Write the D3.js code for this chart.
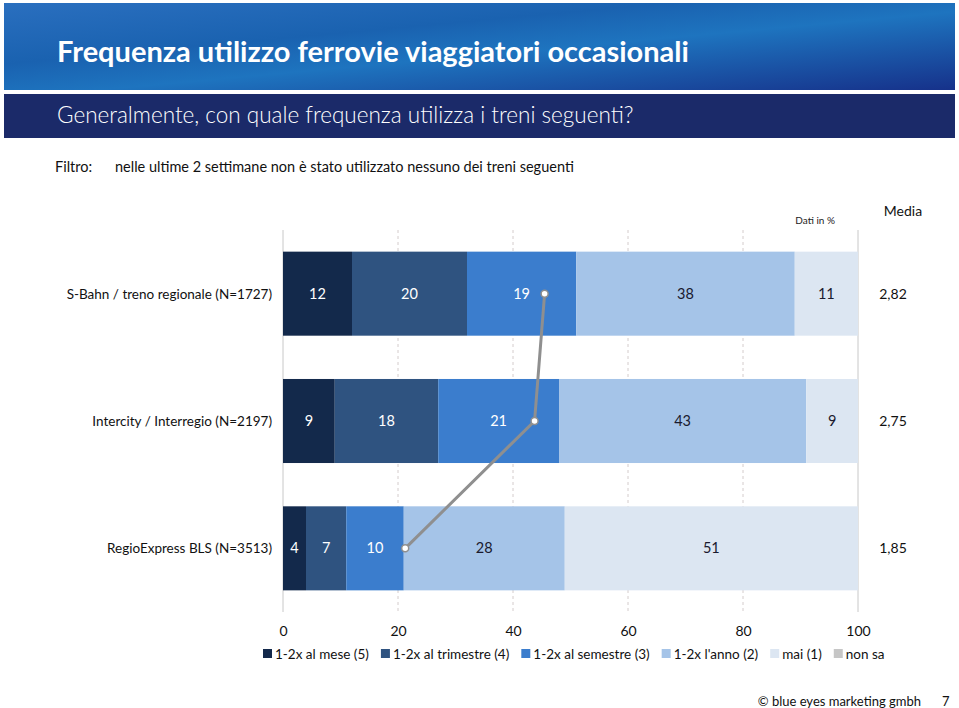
<!DOCTYPE html>
<html>
<head>
<meta charset="utf-8">
<script src="https://cdn.jsdelivr.net/npm/d3@7"></script>
<style>
  body { margin: 0; background: #fff; }
  svg { display: block; font-family: Lato, 'Open Sans', sans-serif; }
</style>
</head>
<body>
<div id="chart"></div>
<script>
// chart data
const categories = [
   'S-Bahn / treno regionale (N=1727)',
   'Intercity / Interregio (N=2197)',
   'RegioExpress BLS (N=3513)'
]
const seriesNames = ['1-2x al mese (5)', '1-2x al trimestre (4)', '1-2x al semestre (3)', "1-2x l'anno (2)", 'mai (1)', 'non sa']
const mese = [12, 9, 4]
const trimestre = [20, 18, 7]
const semestre = [19, 21, 10]
const anno = [38, 43, 28]
const mai = [11, 9, 51]
const nonSa = [0, 0, 0]
const media = [2.82, 2.75, 1.85]
const xTicks = [0, 20, 40, 60, 80, 100]

const colors = ['#13294b', '#2f5380', '#3b7dcd', '#a5c4e8', '#dce6f2', '#c6c6c6']
const labelColors = ['#ffffff', '#ffffff', '#ffffff', '#1a1a2e', '#1a1a2e', '#1a1a2e']

const W = 959, H = 708

let svg = d3.select('#chart').append('svg')
   .attr('width', W)
   .attr('height', H)

// header gradient
let defs = svg.append('defs')
let grad = defs.append('linearGradient')
   .attr('id', 'hdr')
   .attr('x1', '0').attr('y1', '0').attr('x2', '1').attr('y2', '1')
grad.append('stop').attr('offset', '0%').attr('stop-color', '#2a6fbf')
grad.append('stop').attr('offset', '35%').attr('stop-color', '#1a62b0')
grad.append('stop').attr('offset', '55%').attr('stop-color', '#1e74bf')
grad.append('stop').attr('offset', '100%').attr('stop-color', '#16318a')

svg.append('rect')
   .attr('x', 4).attr('y', 3).attr('width', 951).attr('height', 87)
   .attr('fill', 'url(#hdr)')

svg.append('text')
   .attr('x', 57).attr('y', 62)
   .attr('fill', '#fff')
   .style('font-size', '29px')
   .style('font-weight', 700)
   .text('Frequenza utilizzo ferrovie viaggiatori occasionali')

svg.append('rect')
   .attr('x', 4).attr('y', 94).attr('width', 951).attr('height', 44)
   .attr('fill', '#1b2a69')

svg.append('text')
   .attr('x', 57).attr('y', 123)
   .attr('fill', '#fff')
   .style('font-size', '22.5px')
   .style('font-weight', 300)
   .text('Generalmente, con quale frequenza utilizza i treni seguenti?')

// filter line
svg.append('text')
   .attr('x', 55).attr('y', 172)
   .style('font-size', '14.5px')
   .attr('fill', '#111')
   .text('Filtro:')
svg.append('text')
   .attr('x', 115).attr('y', 172)
   .style('font-size', '14.5px')
   .attr('fill', '#111')
   .text('nelle ultime 2 settimane non è stato utilizzato nessuno dei treni seguenti')

svg.append('text')
   .attr('x', 835).attr('y', 224)
   .attr('text-anchor', 'end')
   .style('font-size', '10px')
   .attr('fill', '#222')
   .text('Dati in %')
svg.append('text')
   .attr('x', 903).attr('y', 216)
   .attr('text-anchor', 'middle')
   .style('font-size', '14px')
   .attr('fill', '#111')
   .text('Media')

// plot area
let plot = { left: 283, right: 858, top: 230, bottom: 612 }

let x = d3.scaleLinear()
   .domain([0, 100])
   .range([plot.left, plot.right])

let y = d3.scaleBand()
   .domain(categories)
   .range([plot.top, plot.bottom])
   .paddingInner(0.34)
   .paddingOuter(0.17)

// media mapped onto the percent axis (1..5 -> 0..100)
let mediaScale = d3.scaleLinear().domain([1, 5]).range([0, 100])

// gridlines
svg.append('g')
   .selectAll('line')
   .data(xTicks)
   .enter().append('line')
      .attr('x1', d => x(d)).attr('x2', d => x(d))
      .attr('y1', plot.top).attr('y2', plot.bottom)
      .attr('stroke', d => (d === 0 || d === 100) ? '#c8c8c8' : '#d4cccc')
      .attr('stroke-width', 1)
      .attr('stroke-dasharray', d => (d === 0 || d === 100) ? null : '3,3')

// stacked data
let table = categories.map((c, i) => ({
   cat: c,
   s0: mese[i], s1: trimestre[i], s2: semestre[i], s3: anno[i], s4: mai[i], s5: nonSa[i]
}))
let keys = ['s0', 's1', 's2', 's3', 's4', 's5']
let stacked = d3.stack().keys(keys)(table)

let layers = svg.append('g')
   .selectAll('g')
   .data(stacked)
   .enter().append('g')
      .attr('fill', (d, i) => colors[i])

layers.selectAll('rect')
   .data(d => d)
   .enter().append('rect')
      .attr('x', d => x(d[0]))
      .attr('width', d => x(d[1]) - x(d[0]))
      .attr('y', d => y(d.data.cat))
      .attr('height', y.bandwidth())

// value labels
stacked.forEach((layer, li) => {
   svg.append('g')
      .selectAll('text')
      .data(layer.filter(d => d[1] - d[0] > 0))
      .enter().append('text')
         .attr('x', d => x((d[0] + d[1]) / 2))
         .attr('y', d => y(d.data.cat) + y.bandwidth() / 2 + 5)
         .attr('text-anchor', 'middle')
         .attr('fill', labelColors[li])
         .style('font-size', '14.5px')
         .text(d => d[1] - d[0])
})

// category labels
svg.append('g')
   .selectAll('text')
   .data(categories)
   .enter().append('text')
      .attr('x', 272)
      .attr('y', d => y(d) + y.bandwidth() / 2 + 5)
      .attr('text-anchor', 'end')
      .attr('fill', '#111')
      .style('font-size', '13.5px')
      .text(d => d)

// media values
svg.append('g')
   .selectAll('text')
   .data(media)
   .enter().append('text')
      .attr('x', 893)
      .attr('y', (d, i) => y(categories[i]) + y.bandwidth() / 2 + 5)
      .attr('text-anchor', 'middle')
      .attr('fill', '#111')
      .style('font-size', '14px')
      .text(d => d.toFixed(2).replace('.', ','))

// media line
let line = d3.line()
   .x(d => x(mediaScale(d.m)))
   .y(d => y(d.c) + y.bandwidth() / 2)
let pts = media.map((m, i) => ({ m: m, c: categories[i] }))

svg.append('path')
   .datum(pts)
   .attr('d', line)
   .attr('fill', 'none')
   .attr('stroke', '#8f8f8f')
   .attr('stroke-width', 3)

svg.append('g')
   .selectAll('circle')
   .data(pts)
   .enter().append('circle')
      .attr('cx', d => x(mediaScale(d.m)))
      .attr('cy', d => y(d.c) + y.bandwidth() / 2)
      .attr('r', 3.5)
      .attr('fill', '#fff')
      .attr('stroke', '#8f8f8f')
      .attr('stroke-width', 1.5)

// x axis
let axis = svg.append('g')
   .attr('transform', 'translate(0,' + (plot.bottom + 6) + ')')
   .call(d3.axisBottom(x).tickValues(xTicks).tickSize(0).tickPadding(8))
axis.select('.domain').remove()
axis.selectAll('text')
   .style('font-size', '14px')
   .style('font-family', 'Lato, sans-serif')
   .attr('fill', '#111')

// legend
let legend = svg.append('g').attr('transform', 'translate(263,654)')
let lx = 0
seriesNames.forEach((name, i) => {
   let item = legend.append('g').attr('transform', 'translate(' + lx + ',0)')
   item.append('rect')
      .attr('x', 0).attr('y', -5)
      .attr('width', 9).attr('height', 9)
      .attr('fill', colors[i])
   let t = item.append('text')
      .attr('x', 12).attr('y', 5)
      .style('font-size', '13.5px')
      .attr('fill', '#111')
      .text(name)
   lx += 12 + t.node().getComputedTextLength() + 12
})

// footer
svg.append('text')
   .attr('x', 921).attr('y', 706)
   .attr('text-anchor', 'end')
   .style('font-size', '13px')
   .attr('fill', '#111')
   .text('© blue eyes marketing gmbh')
svg.append('text')
   .attr('x', 942).attr('y', 706)
   .style('font-size', '13px')
   .attr('fill', '#111')
   .text('7')
</script>
</body>
</html>
